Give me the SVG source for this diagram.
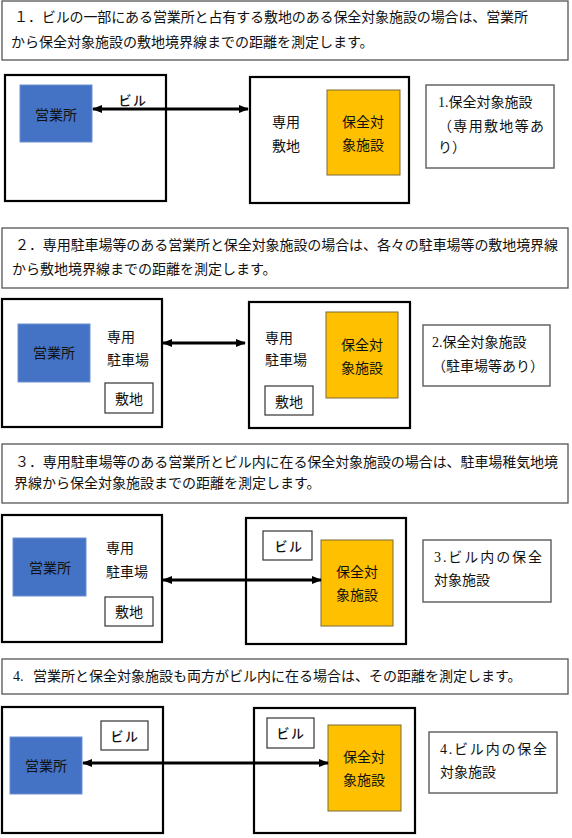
<svg xmlns="http://www.w3.org/2000/svg" width="572" height="838" viewBox="0 0 572 838">
<style>
text{font-family:"Liberation Serif","Noto Sans CJK JP",serif;font-size:14px;fill:#111;dominant-baseline:central}
.hdr{fill:#fff;stroke:#555;stroke-width:1.3}
.big{fill:#fff;stroke:#000;stroke-width:2.2}
.small{fill:#fff;stroke:#333;stroke-width:1.2}
.lbl{fill:#fff;stroke:#666;stroke-width:1.5}
.blue{fill:#4472C4;stroke:#6f8fd0;stroke-width:1}
.orange{fill:#FFC000;stroke:#7a6a3a;stroke-width:1}
.c{text-anchor:middle}
.bl{font-weight:500;font-size:13px;letter-spacing:1.5px}
.arrow{stroke:#000;stroke-width:3;fill:none;marker-start:url(#ah);marker-end:url(#ah)}
</style>
<defs>
<marker id="ah" viewBox="0 0 10 8" refX="9" refY="4" markerWidth="10" markerHeight="8" markerUnits="userSpaceOnUse" orient="auto-start-reverse">
<path d="M0,0 L10,4 L0,8 z" fill="#000"/>
</marker>
</defs>

<!-- Section 1 -->
<g id="header1">
<rect class="hdr" x="2" y="1" width="566" height="59"/>
<text x="14" y="17" textLength="514">１．ビルの一部にある営業所と占有する敷地のある保全対象施設の場合は、営業所</text>
<text x="11" y="42">から保全対象施設の敷地境界線までの距離を測定します。</text>
</g>
<g id="s1-left">
<rect class="big" x="5" y="75" width="161" height="126"/>
</g>
<g id="s1-office">
<rect class="blue" x="20" y="85" width="72" height="57"/>
<text class="c" x="56" y="115">営業所</text>
</g>
<g id="s1-building-label">
<text class="c bl" x="133" y="100">ビル</text>
</g>
<g id="s1-right">
<rect class="big" x="250" y="77" width="159" height="126"/>
<text class="c" x="286" y="122">専用</text>
<text class="c" x="286" y="146">敷地</text>
</g>
<g id="s1-facility">
<rect class="orange" x="327" y="90" width="73" height="85"/>
<text class="c" x="363" y="122">保全対</text>
<text class="c" x="363" y="145">象施設</text>
</g>
<g id="s1-note">
<rect class="lbl" x="426" y="85" width="128" height="83"/>
<text x="438" y="102">1.保全対象施設</text>
<text x="438" y="126" textLength="106" lengthAdjust="spacing">（専用敷地等あ</text>
<text x="438" y="147">り）</text>
</g>

<!-- Section 2 -->
<g id="header2">
<rect class="hdr" x="2" y="228" width="566" height="60"/>
<text x="15" y="245" textLength="543">２．専用駐車場等のある営業所と保全対象施設の場合は、各々の駐車場等の敷地境界線</text>
<text x="12" y="269">から敷地境界線までの距離を測定します。</text>
</g>
<g id="s2-left">
<rect class="big" x="2" y="299" width="160" height="128"/>
<text x="107" y="337">専用</text>
<text x="107" y="360">駐車場</text>
</g>
<g id="s2-office">
<rect class="blue" x="18" y="324" width="72" height="58"/>
<text class="c" x="54" y="353">営業所</text>
</g>
<g id="s2-left-site">
<rect class="small" x="105" y="383" width="48" height="30"/>
<text class="c" x="129" y="399">敷地</text>
</g>
<g id="s2-right">
<rect class="big" x="249" y="302" width="161" height="126"/>
<text x="265" y="338">専用</text>
<text x="265" y="360">駐車場</text>
</g>
<g id="s2-right-site">
<rect class="small" x="265" y="386" width="48" height="29"/>
<text class="c" x="289" y="402">敷地</text>
</g>
<g id="s2-facility">
<rect class="orange" x="326" y="312" width="72" height="86"/>
<text class="c" x="362" y="345">保全対</text>
<text class="c" x="362" y="368">象施設</text>
</g>
<g id="s2-note">
<rect class="lbl" x="423" y="325" width="127" height="61"/>
<text x="432" y="342">2.保全対象施設</text>
<text x="432" y="366">（駐車場等あり）</text>
</g>

<!-- Section 3 -->
<g id="header3">
<rect class="hdr" x="2" y="444" width="566" height="59"/>
<text x="15" y="462" textLength="543">３．専用駐車場等のある営業所とビル内に在る保全対象施設の場合は、駐車場稚気地境</text>
<text x="14" y="483">界線から保全対象施設までの距離を測定します。</text>
</g>
<g id="s3-left">
<rect class="big" x="2" y="515" width="160" height="127"/>
<text x="106" y="548">専用</text>
<text x="106" y="572">駐車場</text>
</g>
<g id="s3-office">
<rect class="blue" x="13" y="538" width="73" height="58"/>
<text class="c" x="50" y="568">営業所</text>
</g>
<g id="s3-site">
<rect class="small" x="105" y="597" width="48" height="29"/>
<text class="c" x="129" y="612">敷地</text>
</g>
<g id="s3-right">
<rect class="big" x="246" y="518" width="160" height="126"/>
</g>
<g id="s3-building">
<rect class="small" x="263" y="531" width="49" height="29"/>
<text class="c bl" x="289" y="546">ビル</text>
</g>
<g id="s3-facility">
<rect class="orange" x="321" y="540" width="72" height="86"/>
<text class="c" x="357" y="572">保全対</text>
<text class="c" x="357" y="595">象施設</text>
</g>
<g id="s3-note">
<rect class="lbl" x="423" y="540" width="128" height="62"/>
<text x="434" y="557" textLength="108" lengthAdjust="spacing">3.ビル内の保全</text>
<text x="434" y="580">対象施設</text>
</g>

<!-- Section 4 -->
<g id="header4">
<rect class="hdr" x="2" y="659" width="566" height="35"/>
<text x="13" y="676">4.<tspan x="33">営業所と保全対象施設も両方がビル内に在る場合は、その距離を測定します。</tspan></text>
</g>
<g id="s4-left">
<rect class="big" x="2" y="707" width="161" height="126"/>
</g>
<g id="s4-left-building">
<rect class="small" x="101" y="721" width="47" height="29"/>
<text class="c bl" x="125" y="736">ビル</text>
</g>
<g id="s4-office">
<rect class="blue" x="10" y="737" width="72" height="57"/>
<text class="c" x="46" y="766">営業所</text>
</g>
<g id="s4-right">
<rect class="big" x="254" y="708" width="161" height="125"/>
</g>
<g id="s4-right-building">
<rect class="small" x="267" y="718" width="47" height="30"/>
<text class="c bl" x="291" y="733">ビル</text>
</g>
<g id="s4-facility">
<rect class="orange" x="328" y="725" width="73" height="86"/>
<text class="c" x="364" y="757">保全対</text>
<text class="c" x="364" y="780">象施設</text>
</g>
<g id="s4-note">
<rect class="lbl" x="429" y="732" width="128" height="61"/>
<text x="440" y="749" textLength="107" lengthAdjust="spacing">4.ビル内の保全</text>
<text x="440" y="772">対象施設</text>
</g>

<g id="connectors">
<line class="arrow" x1="93" y1="109" x2="248" y2="109"/>
<line class="arrow" x1="163" y1="343" x2="245" y2="343"/>
<line class="arrow" x1="163" y1="580" x2="321" y2="580"/>
<line class="arrow" x1="83" y1="763" x2="328" y2="763"/>
</g>
</svg>
